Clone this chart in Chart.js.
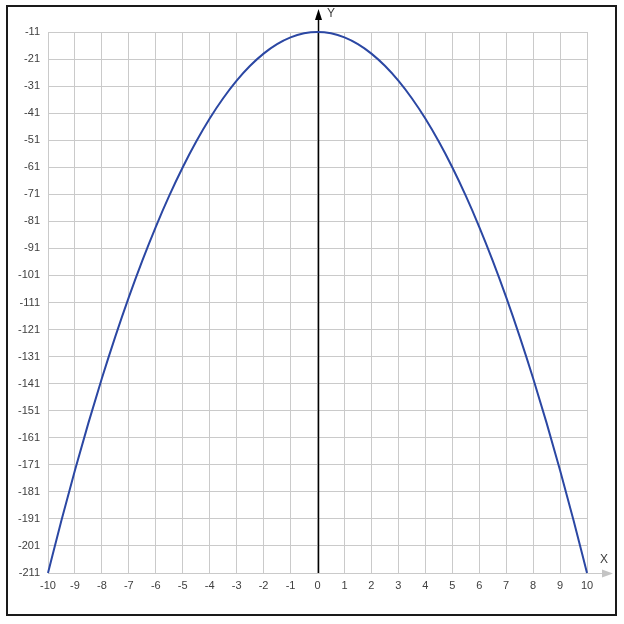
<!DOCTYPE html>
<html>
<head>
<meta charset="utf-8">
<script src="https://cdn.jsdelivr.net/npm/chart.js@4"></script>
<style>
  html, body { margin: 0; padding: 0; background: #fff; }
  #wrap { width: 624px; height: 624px; position: relative; }
</style>
</head>
<body>
<div id="wrap"><canvas id="myChart" width="624" height="624"></canvas></div>
<script>
// points
const X_VALUES = [-10, -9.5, -9, -8.5, -8, -7.5, -7, -6.5, -6, -5.5, -5, -4.5, -4, -3.5, -3, -2.5, -2, -1.5, -1, -0.5,
  0, 0.5, 1, 1.5, 2, 2.5, 3, 3.5, 4, 4.5, 5, 5.5, 6, 6.5, 7, 7.5, 8, 8.5, 9, 9.5, 10];
const Y_VALUES = [-211, -191.5, -173, -155.5, -139, -123.5, -109, -95.5, -83, -71.5, -61, -51.5, -43, -35.5, -29, -23.5, -19, -15.5, -13, -11.5,
  -11, -11.5, -13, -15.5, -19, -23.5, -29, -35.5, -43, -51.5, -61, -71.5, -83, -95.5, -109, -123.5, -139, -155.5, -173, -191.5, -211];

// tick labels
const X_TICKS = [-10, -9, -8, -7, -6, -5, -4, -3, -2, -1, 0, 1, 2, 3, 4, 5, 6, 7, 8, 9, 10];
const Y_TICKS = [-211, -201, -191, -181, -171, -161, -151, -141, -131, -121, -111, -101, -91, -81, -71, -61, -51, -41, -31, -21, -11];

const GRID = "#cacaca";
const TEXT = "#404040";
const FONT = "Liberation Sans, Arial, sans-serif";

// frame, axis arrows and axis names
const axesPlugin = {
  id: "axesPlugin",
  beforeDatasetsDraw(chart) {
    const { ctx, scales, chartArea } = chart;
    const x0 = Math.round(scales.x.getPixelForValue(0));
    const yb = chartArea.bottom;

    ctx.save();
    // x arrow (gray)
    ctx.strokeStyle = GRID;
    ctx.lineWidth = 1;
    ctx.beginPath();
    ctx.moveTo(chartArea.right, yb + 0.5);
    ctx.lineTo(606, yb + 0.5);
    ctx.stroke();
    ctx.fillStyle = "#c4c4c4";
    ctx.beginPath();
    ctx.moveTo(613, yb + 0.5);
    ctx.lineTo(602, yb - 3.5);
    ctx.lineTo(602, yb + 4.5);
    ctx.closePath();
    ctx.fill();

    // y axis (black)
    ctx.strokeStyle = "#000";
    ctx.lineWidth = 1.5;
    ctx.beginPath();
    ctx.moveTo(x0 + 0.5, yb);
    ctx.lineTo(x0 + 0.5, 16);
    ctx.stroke();
    ctx.fillStyle = "#000";
    ctx.beginPath();
    ctx.moveTo(x0 + 0.5, 9);
    ctx.lineTo(x0 - 3, 20);
    ctx.lineTo(x0 + 4, 20);
    ctx.closePath();
    ctx.fill();

    // axis names
    ctx.fillStyle = TEXT;
    ctx.font = "12px " + FONT;
    ctx.textBaseline = "top";
    ctx.textAlign = "left";
    ctx.fillText("Y", x0 + 9, 8);
    ctx.fillText("X", 600, 554);

    // outer frame
    ctx.strokeStyle = "#1a1a1a";
    ctx.lineWidth = 2;
    ctx.strokeRect(7, 6, 609, 609);
    ctx.restore();
  },
};

const ctx = document.getElementById("myChart").getContext("2d");

const chart = new Chart(ctx, {
  type: "line",
  data: {
    datasets: [
      {
        data: X_VALUES.map((x, i) => ({ x: x, y: Y_VALUES[i] })),
        borderColor: "#2b47a3",
        borderWidth: 2,
        pointRadius: 0,
        fill: false,
        cubicInterpolationMode: "monotone",
        clip: false,
      },
    ],
  },
  options: {
    responsive: false,
    animation: false,
    layout: {
      padding: { left: 8, top: 32, right: 37, bottom: 21 },
    },
    plugins: {
      legend: { display: false },
      tooltip: { enabled: false },
    },
    scales: {
      x: {
        type: "linear",
        min: X_TICKS[0],
        max: X_TICKS[X_TICKS.length - 1],
        afterBuildTicks: (scale) => {
          scale.ticks = X_TICKS.map((v) => ({ value: v }));
        },
        afterFit: (scale) => {
          scale.height = 30;
        },
        border: { color: GRID },
        grid: { color: GRID, drawTicks: false },
        ticks: {
          color: TEXT,
          font: { family: FONT, size: 11 },
          padding: 6,
          maxRotation: 0,
          autoSkip: false,
          callback: (v) => String(v),
        },
      },
      y: {
        type: "linear",
        min: Y_TICKS[0],
        max: Y_TICKS[Y_TICKS.length - 1],
        afterBuildTicks: (scale) => {
          scale.ticks = Y_TICKS.map((v) => ({ value: v }));
        },
        afterFit: (scale) => {
          scale.width = 40;
        },
        border: { color: GRID },
        grid: { color: GRID, drawTicks: false },
        ticks: {
          color: TEXT,
          font: { family: FONT, size: 11 },
          padding: 8,
          autoSkip: false,
          callback: (v) => String(v),
        },
      },
    },
  },
  plugins: [axesPlugin],
});
</script>
</body>
</html>
